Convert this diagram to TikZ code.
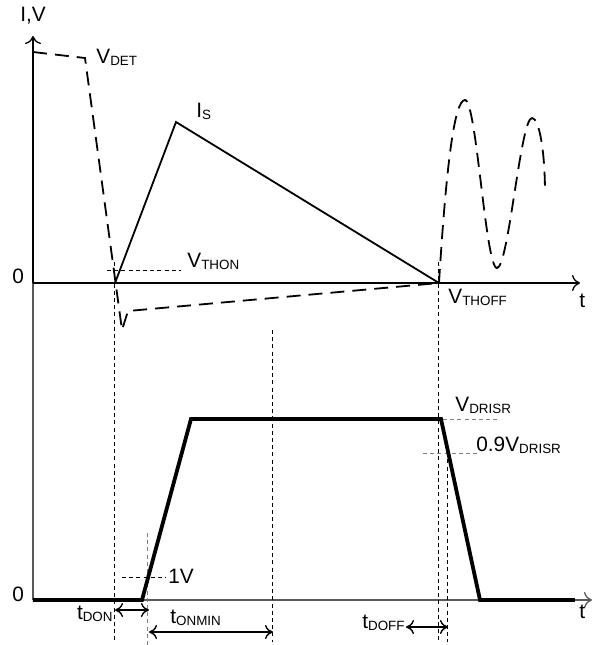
\documentclass[tikz,border=0pt]{standalone}
\usepackage{fontspec}
\setmainfont{Liberation Sans}
\usetikzlibrary{arrows.meta}
\newcommand\subtx[1]{\raisebox{-1.2pt}{\fontsize{6.7}{7}\selectfont #1}}
\begin{document}
\begin{tikzpicture}[x=0.5pt,y=-0.5pt,
  lbl/.style={anchor=base west,inner sep=0pt,font=\fontsize{10.4}{12}\selectfont},
  axis/.style={line width=0.65pt},
  sig/.style={line width=0.9pt},
  sigdash/.style={line width=0.9pt,dash pattern=on 7pt off 4pt},
  thick wave/.style={line width=1.9pt,line join=miter},
  guide/.style={line width=0.5pt,dash pattern=on 2pt off 1.6pt},
  gguide/.style={guide,draw=gray},
  dimarr/.style={line width=0.7pt,{To[length=4pt,width=7pt]}-{To[length=4pt,width=7pt]}},
]
\useasboundingbox (0,0) rectangle (592,645);
% axes
\draw[axis,gray!70!black] (33,600) -- (33,283);
\draw[axis,-{To[length=4pt,width=8pt]}] (33,283) -- (33,36);
\draw[axis,-{To[length=4pt,width=8pt]}] (33,283) -- (580,283);
\draw[axis,gray!70!black,-{To[length=4pt,width=8pt]}] (33,600) -- (592,600);
% labels axes
\node[lbl] (iv) at (20,21) {I,V};
\node[lbl] (z1) at (12,283) {0};
\node[lbl] (z2) at (12,601) {0};
\node[lbl] (t1) at (579,307) {t};
\node[lbl] (t2) at (579,618) {t};
% vertical guides
\draw[guide] (115,262) -- (115,642);
\draw[gguide] (148,533) -- (148,645);
\draw[guide] (273,330) -- (273,642);
\draw[guide] (439,262) -- (439,642);
\draw[guide] (448,445) -- (448,642);
% horizontal guides
\draw[guide] (107,270) -- (181,270);
\draw[gguide] (443,419) -- (498,419);
\draw[gguide] (423,453) -- (480,453);
\draw[guide] (122,577) -- (166,577);
% VDET dashed
\draw[sigdash,line join=miter] (33,52) -- (85,58) -- (122,330) -- (128,311) -- (439,283);
% sine
\draw[sigdash] (439,283) .. controls (446,170) and (454,100) .. (465,100)
  .. controls (476.5,100) and (485.5,268) .. (497,268)
  .. controls (508.5,268) and (520.5,118) .. (532,118)
  .. controls (539,118) and (545,150) .. (545,193);
% Is triangle
\draw[sig,line join=miter] (115,283) -- (176,122) -- (439,283);
% thick drive
\draw[thick wave] (33,600) -- (142,600) -- (191,419) -- (441,419) -- (480,600) -- (575,600);
% text labels
\node[lbl] (vdet) at (96,63) {V\subtx{DET}};
\node[lbl] (is) at (196,117) {I\subtx{S}};
\node[lbl] (vthon) at (187,267) {V\subtx{THON}};
\node[lbl] (vthoff) at (448,303) {V\subtx{THOFF}};
\node[lbl] (vdrisr) at (455,411) {V\subtx{DRISR}};
\node[lbl] (v09) at (476,451) {0.9V\subtx{DRISR}};
\node[lbl] (onev) at (168,583) {1V};
% dimension arrows
\coordinate (don1) at (115,610); \coordinate (don2) at (149,610);
\coordinate (on1) at (149,632); \coordinate (on2) at (273,632);
\coordinate (off1) at (406,627); \coordinate (off2) at (448,627);
\draw[dimarr] (don1) -- (don2);
\draw[dimarr] (on1) -- (on2);
\draw[dimarr] (off1) -- (off2);
\node[lbl,anchor=base east] (tdon) at (113,619) {t\subtx{DON}};
\node[lbl] (tonmin) at (170,623) {t\subtx{ONMIN}};
\node[lbl,anchor=base east] (tdoff) at (405,628) {t\subtx{DOFF}};
\end{tikzpicture}
\end{document}
